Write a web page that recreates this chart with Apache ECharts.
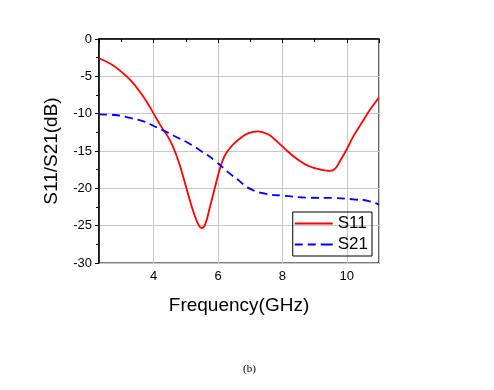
<!DOCTYPE html>
<html><head><meta charset="utf-8">
<script src="https://cdn.jsdelivr.net/npm/echarts@6/dist/echarts.min.js"></script>
<style>html,body{margin:0;padding:0;background:#fff}#c{width:494px;height:390px}</style>
</head><body><div id="c"></div>
<script>
const freqS11 = [2.3, 2.68, 2.99, 3.3, 3.61, 3.81, 4.0, 4.23, 4.49, 4.7, 4.9, 5.11, 5.27, 5.4, 5.49, 5.6, 5.73, 5.89, 6.04, 6.14, 6.25, 6.4, 6.51, 6.67, 6.93, 7.24, 7.55, 7.81, 8.07, 8.33, 8.59, 8.85, 9.22, 9.48, 9.64, 9.79, 10.0, 10.21, 10.47, 10.73, 11.0];
const s11 = [-2.58, -3.39, -4.37, -5.62, -7.3, -8.6, -10.0, -11.7, -13.45, -15.5, -18.2, -21.4, -23.6, -24.95, -25.34, -24.8, -22.8, -20.1, -17.6, -16.3, -15.3, -14.45, -13.95, -13.35, -12.65, -12.36, -12.76, -13.65, -14.68, -15.66, -16.46, -17.08, -17.53, -17.67, -17.35, -16.33, -14.77, -12.98, -11.19, -9.41, -7.85];
const freqS21 = [2.3, 2.78, 3.3, 3.71, 4.0, 4.33, 4.64, 5.06, 5.47, 5.89, 6.3, 6.66, 6.92, 7.45, 8.07, 8.8, 9.63, 10.26, 10.68, 11.0];
const s21 = [-10.09, -10.18, -10.6, -11.07, -11.65, -12.3, -13.0, -13.9, -15.0, -16.25, -17.8, -19.0, -19.9, -20.7, -21.0, -21.25, -21.3, -21.5, -21.7, -22.2];
const seriesNames = ['S11', 'S21'];
const xTitle = 'Frequency(GHz)';
const yTitle = 'S11/S21(dB)';
const caption = '(b)';

const chart = echarts.init(document.getElementById('c'), null, {renderer: 'canvas'});
const font = 'Liberation Sans, Arial, sans-serif';
chart.setOption({
  animation: false,
  backgroundColor: '#fff',
  grid: {left: 99, right: 115, top: 39, bottom: 127, show: true, borderColor: '#000', borderWidth: 1.2},
  xAxis: {
    type: 'value', min: 2.3, max: 11, splitNumber: 5,
    name: xTitle, nameLocation: 'middle', nameGap: 33,
    nameTextStyle: {fontFamily: font, fontSize: 19, color: '#000'},
    axisLine: {lineStyle: {color: '#000', width: 1.5}},
    axisTick: {show: true, length: 4, lineStyle: {color: '#000'}},
    minorTick: {show: true, splitNumber: 2, length: 3, lineStyle: {color: '#000'}},
    axisLabel: {fontFamily: font, fontSize: 13, color: '#000', margin: 7, showMinLabel: false, showMaxLabel: false,
      formatter: v => (Math.abs(v - Math.round(v)) < 1e-6 ? String(Math.round(v)) : '')},
    splitLine: {show: true, lineStyle: {color: '#c8c8c8', width: 1}}
  },
  yAxis: {
    type: 'value', min: -30, max: 0, interval: 5,
    name: yTitle, nameLocation: 'middle', nameGap: 38, nameRotate: 90,
    nameTextStyle: {fontFamily: font, fontSize: 19, color: '#000'},
    axisLine: {show: true, lineStyle: {color: '#000', width: 1.5}},
    axisTick: {show: true, length: 4, lineStyle: {color: '#000'}},
    minorTick: {show: true, splitNumber: 2, length: 3, lineStyle: {color: '#000'}},
    axisLabel: {fontFamily: font, fontSize: 13, color: '#000', margin: 7},
    splitLine: {show: true, lineStyle: {color: '#c8c8c8', width: 1}}
  },
  legend: {
    right: 122, top: 212, orient: 'vertical',
    borderColor: '#000', borderWidth: 1, padding: [3, 4, 3, 2], itemGap: 4,
    itemWidth: 38, itemHeight: 2,
    textStyle: {fontFamily: font, fontSize: 17, color: '#000', lineHeight: 16},
    data: [
      {name: seriesNames[0], icon: 'path://M0,0h38v2h-38z', itemStyle: {color: '#ff0000'}},
      {name: seriesNames[1], icon: 'path://M0,0h8v2h-8zM13,0h8v2h-8zM26,0h8v2h-8zM34,0h4v2h-4z', itemStyle: {color: '#0000ff'}}
    ]
  },
  series: [
    {name: seriesNames[0], type: 'line', smooth: 0.45, symbol: 'none',
     lineStyle: {color: '#ff0000', width: 1.8}, itemStyle: {color: '#ff0000'},
     data: freqS11.map((f, i) => [f, s11[i]])},
    {name: seriesNames[1], type: 'line', smooth: 0.5, symbol: 'none',
     lineStyle: {color: '#0000ff', width: 1.8, type: [8, 5]}, itemStyle: {color: '#0000ff'},
     data: freqS21.map((f, i) => [f, s21[i]])}
  ],
  graphic: [{type: 'text', left: 243, top: 364, style: {text: caption, font: '11px "Liberation Serif", serif', fill: '#000'}}]
});
</script></body></html>
